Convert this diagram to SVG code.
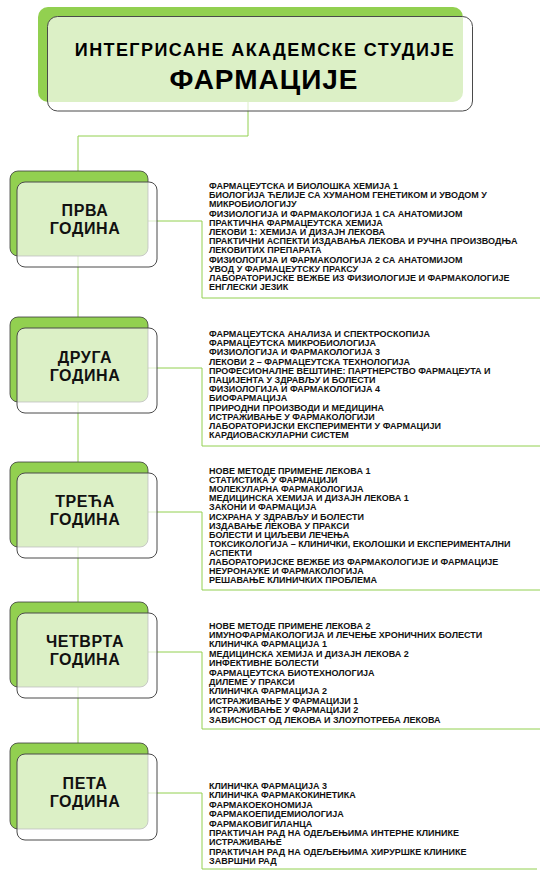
<svg xmlns="http://www.w3.org/2000/svg" width="550" height="881" viewBox="0 0 550 881">
<style>
.bg{fill:#ffffff}
.back{fill:#92D050;stroke:#3a3a3a;stroke-width:0.8}
.tback{fill:#92D050}
.front{fill:#ffffff;fill-opacity:0.68;stroke:#4a4a4a;stroke-width:1}
.conn{fill:none;stroke:#92D050;stroke-width:1}
.lbl{font-family:"Liberation Sans",Arial,sans-serif;font-weight:bold;font-size:16px;letter-spacing:0.6px;fill:#111;text-anchor:middle}
.t1{font-family:"Liberation Sans",Arial,sans-serif;font-weight:bold;font-size:18px;letter-spacing:1.4px;fill:#000;text-anchor:middle}
.t2{font-family:"Liberation Sans",Arial,sans-serif;font-weight:bold;font-size:28px;letter-spacing:1px;fill:#000;text-anchor:middle}
.lst{font-family:"Liberation Sans",Arial,sans-serif;font-weight:bold;font-size:9px;fill:#111}
</style>
<rect class="bg" x="0" y="0" width="550" height="881"/>
<g id="connectors">
<path class="conn" d="M248,102 V136 H78 V743"/>
<path class="conn" d="M148,221 H202 V298 H540"/>
<path class="conn" d="M148,368 H202 V446 H540"/>
<path class="conn" d="M148,512 H202 V590 H540"/>
<path class="conn" d="M148,652 H202 V729 H540"/>
<path class="conn" d="M148,793 H202 V869 H537"/>
</g>
<g id="title">
<rect class="tback" x="38" y="7" width="425" height="95" rx="10"/>
<rect class="front" x="47.5" y="16.5" width="425" height="94.5" rx="10"/>
<text class="t1" x="265" y="56">ИНТЕГРИСАНЕ АКАДЕМСКЕ СТУДИЈЕ</text>
<text class="t2" x="264" y="89">ФАРМАЦИЈЕ</text>
</g>
<g id="year1">
<rect class="back" x="10" y="171" width="138" height="85" rx="8"/>
<rect class="front" x="17" y="182" width="140" height="85" rx="8"/>
<text class="lbl" x="85" y="216">ПРВА</text>
<text class="lbl" x="85" y="234">ГОДИНА</text>
</g>
<g id="list1">
<text class="lst" x="209" y="189"><tspan x="209" dy="0">ФАРМАЦЕУТСКА И БИОЛОШКА ХЕМИЈА 1</tspan><tspan x="209" dy="9.2">БИОЛОГИЈА ЋЕЛИЈЕ СА ХУМАНОМ ГЕНЕТИКОМ И УВОДОМ У</tspan><tspan x="209" dy="9.2">МИКРОБИОЛОГИЈУ</tspan><tspan x="209" dy="9.2">ФИЗИОЛОГИЈА И ФАРМАКОЛОГИЈА 1 СА АНАТОМИЈОМ</tspan><tspan x="209" dy="9.2">ПРАКТИЧНА ФАРМАЦЕУТСКА ХЕМИЈА</tspan><tspan x="209" dy="9.2">ЛЕКОВИ 1: ХЕМИЈА И ДИЗАЈН ЛЕКОВА</tspan><tspan x="209" dy="9.2">ПРАКТИЧНИ АСПЕКТИ ИЗДАВАЊА ЛЕКОВА И РУЧНА ПРОИЗВОДЊА</tspan><tspan x="209" dy="9.2">ЛЕКОВИТИХ ПРЕПАРАТА</tspan><tspan x="209" dy="9.2">ФИЗИОЛОГИЈА И ФАРМАКОЛОГИЈА 2 СА АНАТОМИЈОМ</tspan><tspan x="209" dy="9.2">УВОД У ФАРМАЦЕУТСКУ ПРАКСУ</tspan><tspan x="209" dy="9.2">ЛАБОРАТОРИЈСКЕ ВЕЖБЕ ИЗ ФИЗИОЛОГИЈЕ И ФАРМАКОЛОГИЈЕ</tspan><tspan x="209" dy="9.2">ЕНГЛЕСКИ ЈЕЗИК</tspan></text>
</g>
<g id="year2">
<rect class="back" x="10" y="317" width="138" height="85" rx="8"/>
<rect class="front" x="17" y="328" width="140" height="85" rx="8"/>
<text class="lbl" x="85" y="363">ДРУГА</text>
<text class="lbl" x="85" y="381">ГОДИНА</text>
</g>
<g id="list2">
<text class="lst" x="209" y="337"><tspan x="209" dy="0">ФАРМАЦЕУТСКА АНАЛИЗА И СПЕКТРОСКОПИЈА</tspan><tspan x="209" dy="9.2">ФАРМАЦЕУТСКА МИКРОБИОЛОГИЈА</tspan><tspan x="209" dy="9.2">ФИЗИОЛОГИЈА И ФАРМАКОЛОГИЈА 3</tspan><tspan x="209" dy="9.2">ЛЕКОВИ 2 – ФАРМАЦЕУТСКА ТЕХНОЛОГИЈА</tspan><tspan x="209" dy="9.2">ПРОФЕСИОНАЛНЕ ВЕШТИНЕ: ПАРТНЕРСТВО ФАРМАЦЕУТА И</tspan><tspan x="209" dy="9.2">ПАЦИЈЕНТА У ЗДРАВЉУ И БОЛЕСТИ</tspan><tspan x="209" dy="9.2">ФИЗИОЛОГИЈА И ФАРМАКОЛОГИЈА 4</tspan><tspan x="209" dy="9.2">БИОФАРМАЦИЈА</tspan><tspan x="209" dy="9.2">ПРИРОДНИ ПРОИЗВОДИ И МЕДИЦИНА</tspan><tspan x="209" dy="9.2">ИСТРАЖИВАЊЕ У ФАРМАКОЛОГИЈИ</tspan><tspan x="209" dy="9.2">ЛАБОРАТОРИЈСКИ ЕКСПЕРИМЕНТИ У ФАРМАЦИЈИ</tspan><tspan x="209" dy="9.2">КАРДИОВАСКУЛАРНИ СИСТЕМ</tspan></text>
</g>
<g id="year3">
<rect class="back" x="10" y="462" width="138" height="85" rx="8"/>
<rect class="front" x="17" y="473" width="140" height="85" rx="8"/>
<text class="lbl" x="85" y="507">ТРЕЋА</text>
<text class="lbl" x="85" y="525">ГОДИНА</text>
</g>
<g id="list3">
<text class="lst" x="209" y="474"><tspan x="209" dy="0">НОВЕ МЕТОДЕ ПРИМЕНЕ ЛЕКОВА 1</tspan><tspan x="209" dy="9.1">СТАТИСТИКА У ФАРМАЦИЈИ</tspan><tspan x="209" dy="9.1">МОЛЕКУЛАРНА ФАРМАКОЛОГИЈА</tspan><tspan x="209" dy="9.1">МЕДИЦИНСКА ХЕМИЈА И ДИЗАЈН ЛЕКОВА 1</tspan><tspan x="209" dy="9.1">ЗАКОНИ И ФАРМАЦИЈА</tspan><tspan x="209" dy="9.1">ИСХРАНА У ЗДРАВЉУ И БОЛЕСТИ</tspan><tspan x="209" dy="9.1">ИЗДАВАЊЕ ЛЕКОВА У ПРАКСИ</tspan><tspan x="209" dy="9.1">БОЛЕСТИ И ЦИЉЕВИ ЛЕЧЕЊА</tspan><tspan x="209" dy="9.1">ТОКСИКОЛОГИЈА – КЛИНИЧКИ, ЕКОЛОШКИ И ЕКСПЕРИМЕНТАЛНИ</tspan><tspan x="209" dy="9.1">АСПЕКТИ</tspan><tspan x="209" dy="9.1">ЛАБОРАТОРИЈСКЕ ВЕЖБЕ ИЗ ФАРМАКОЛОГИЈЕ И ФАРМАЦИЈЕ</tspan><tspan x="209" dy="9.1">НЕУРОНАУКЕ И ФАРМАКОЛОГИЈА</tspan><tspan x="209" dy="9.1">РЕШАВАЊЕ КЛИНИЧКИХ ПРОБЛЕМА</tspan></text>
</g>
<g id="year4">
<rect class="back" x="10" y="602" width="138" height="85" rx="8"/>
<rect class="front" x="17" y="613" width="140" height="85" rx="8"/>
<text class="lbl" x="85" y="647">ЧЕТВРТА</text>
<text class="lbl" x="85" y="665">ГОДИНА</text>
</g>
<g id="list4">
<text class="lst" x="209" y="628.5"><tspan x="209" dy="0">НОВЕ МЕТОДЕ ПРИМЕНЕ ЛЕКОВА 2</tspan><tspan x="209" dy="9.4">ИМУНОФАРМАКОЛОГИЈА И ЛЕЧЕЊЕ ХРОНИЧНИХ БОЛЕСТИ</tspan><tspan x="209" dy="9.4">КЛИНИЧКА ФАРМАЦИЈА 1</tspan><tspan x="209" dy="9.4">МЕДИЦИНСКА ХЕМИЈА И ДИЗАЈН ЛЕКОВА 2</tspan><tspan x="209" dy="9.4">ИНФЕКТИВНЕ БОЛЕСТИ</tspan><tspan x="209" dy="9.4">ФАРМАЦЕУТСКА БИОТЕХНОЛОГИЈА</tspan><tspan x="209" dy="9.4">ДИЛЕМЕ У ПРАКСИ</tspan><tspan x="209" dy="9.4">КЛИНИЧКА ФАРМАЦИЈА 2</tspan><tspan x="209" dy="9.4">ИСТРАЖИВАЊЕ У ФАРМАЦИЈИ 1</tspan><tspan x="209" dy="9.4">ИСТРАЖИВАЊЕ У ФАРМАЦИЈИ 2</tspan><tspan x="209" dy="9.4">ЗАВИСНОСТ ОД ЛЕКОВА И ЗЛОУПОТРЕБА ЛЕКОВА</tspan></text>
</g>
<g id="year5">
<rect class="back" x="10" y="743" width="138" height="86" rx="8"/>
<rect class="front" x="17" y="754" width="140" height="86" rx="8"/>
<text class="lbl" x="85" y="789">ПЕТА</text>
<text class="lbl" x="85" y="807">ГОДИНА</text>
</g>
<g id="list5">
<text class="lst" x="209" y="789"><tspan x="209" dy="0">КЛИНИЧКА ФАРМАЦИЈА 3</tspan><tspan x="209" dy="9.4">КЛИНИЧКА ФАРМАКОКИНЕТИКА</tspan><tspan x="209" dy="9.4">ФАРМАКОЕКОНОМИЈА</tspan><tspan x="209" dy="9.4">ФАРМАКОЕПИДЕМИОЛОГИЈА</tspan><tspan x="209" dy="9.4">ФАРМАКОВИГИЛАНЦА</tspan><tspan x="209" dy="9.4">ПРАКТИЧАН РАД НА ОДЕЉЕЊИМА ИНТЕРНЕ КЛИНИКЕ</tspan><tspan x="209" dy="9.4">ИСТРАЖИВАЊЕ</tspan><tspan x="209" dy="9.4">ПРАКТИЧАН РАД НА ОДЕЉЕЊИМА ХИРУРШКЕ КЛИНИКЕ</tspan><tspan x="209" dy="9.4">ЗАВРШНИ РАД</tspan></text>
</g>
</svg>
